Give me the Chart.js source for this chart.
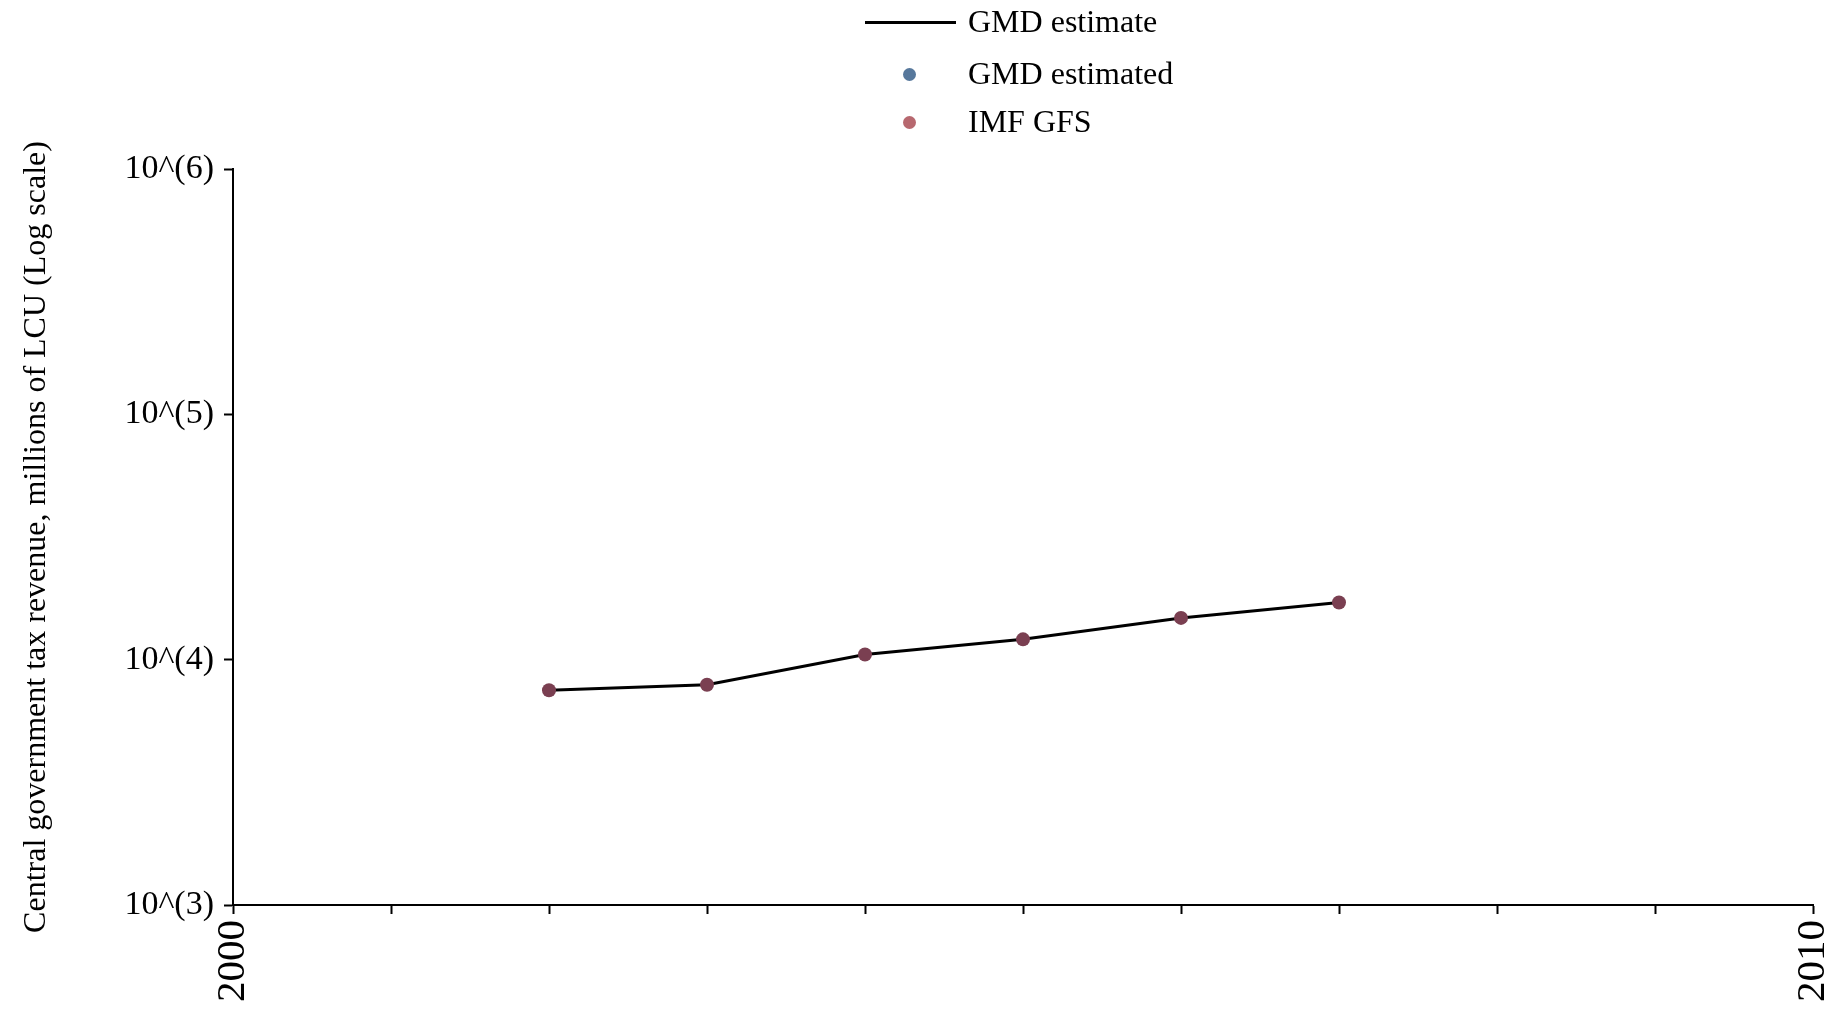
<!DOCTYPE html>
<html>
<head>
<meta charset="utf-8">
<title>Central government tax revenue</title>
<script src="https://cdn.jsdelivr.net/npm/chart.js@4.4.1/dist/chart.umd.min.js"></script>
<style>
    body { margin: 0; background: #fff; }
    #wrap { position: relative; width: 1840px; height: 1012px; }
    #legend { position: absolute; left: 0; top: 0; font-family: "Liberation Serif", "Times New Roman", serif; font-size: 32px; color: #000; }
    .item { position: absolute; left: 865px; height: 40px; width: 400px; }
    .item .mark { position: absolute; top: 50%; }
    .item .line { left: 0; width: 91px; height: 3px; margin-top: -1.5px; background: #000; }
    .item .dot { left: 38px; width: 13px; height: 13px; margin-top: -6.5px; border-radius: 50%; }
    .item span { position: absolute; left: 103px; top: 50%; transform: translateY(-52%); white-space: nowrap; }
</style>
</head>
<body>
<div id="wrap">
    <canvas id="chart" width="1840" height="1012"></canvas>
    <div id="legend"></div>
</div>
<script>
// years with data
const years = [2002, 2003, 2004, 2005, 2006, 2007];
// millions of LCU
const gmdEstimate = [7500, 7900, 10500, 12100, 14800, 17100];
const imfGfs = [7500, 7900, 10500, 12100, 14800, 17100];
const gmdEstimated = [];   // no estimated points for this country

const yTickValues = [1e3, 1e4, 1e5, 1e6];
const xTickLabels = [2000, 2010];
const legendLabels = ['GMD estimate', 'GMD estimated', 'IMF GFS'];

const serif = '"Liberation Serif", "Times New Roman", serif';

function toPoints(values) {
    return values.map((v, i) => ({ x: years[i], y: v }));
}

// simple html legend, one row per series
const legendEl = document.getElementById('legend');
const legendStyles = [
    { kind: 'line', color: '#000' },
    { kind: 'dot', color: '#57789c' },
    { kind: 'dot', color: '#b7686f' }
];
const rowCenters = [22, 74, 122];
legendLabels.forEach(function(label, i) {
    const row = document.createElement('div');
    row.className = 'item';
    row.style.top = (rowCenters[i] - 20) + 'px';
    const mark = document.createElement('div');
    mark.className = 'mark ' + legendStyles[i].kind;
    mark.style.background = legendStyles[i].color;
    const text = document.createElement('span');
    text.textContent = label;
    row.appendChild(mark);
    row.appendChild(text);
    legendEl.appendChild(row);
});

const ctx = document.getElementById('chart').getContext('2d');
new Chart(ctx, {
    data: {
        datasets: [
            {
                type: 'line',
                label: legendLabels[0],
                data: toPoints(gmdEstimate),
                borderColor: '#000',
                borderWidth: 3,
                pointRadius: 0,
                tension: 0,
                order: 3
            },
            {
                type: 'scatter',
                label: legendLabels[1],
                data: toPoints(gmdEstimated),
                backgroundColor: '#57789c',
                borderWidth: 0,
                pointRadius: 7,
                order: 2
            },
            {
                type: 'scatter',
                label: legendLabels[2],
                data: toPoints(imfGfs),
                backgroundColor: '#7a3f51',
                borderWidth: 0,
                pointRadius: 7,
                order: 1
            }
        ]
    },
    options: {
        responsive: false,
        animation: false,
        layout: {
            padding: { top: 169, right: 27, bottom: 0, left: 0 }
        },
        plugins: {
            legend: { display: false },
            tooltip: { enabled: false }
        },
        scales: {
            x: {
                type: 'linear',
                min: 2000,
                max: 2010,
                afterFit: function(scale) {
                    scale.height = 107;
                    scale.paddingLeft = 0;
                    scale.paddingRight = 0;
                },
                afterBuildTicks: function(scale) {
                    const ticks = [];
                    for (let y = 2000; y <= 2010; y++) ticks.push({ value: y });
                    scale.ticks = ticks;
                },
                border: { display: true, color: '#000', width: 2 },
                grid: {
                    drawOnChartArea: false,
                    drawTicks: true,
                    tickLength: 9,
                    tickColor: '#000',
                    tickWidth: 2
                },
                ticks: {
                    autoSkip: false,
                    minRotation: 90,
                    maxRotation: 90,
                    padding: 6,
                    color: '#000',
                    font: { family: serif, size: 41 },
                    callback: function(value) {
                        return xTickLabels.includes(value) ? String(value) : '';
                    }
                }
            },
            y: {
                type: 'logarithmic',
                min: 1e3,
                max: 1e6,
                afterFit: function(scale) {
                    scale.width = 233;
                    scale.paddingTop = 0;
                    scale.paddingBottom = 0;
                },
                afterBuildTicks: function(scale) {
                    scale.ticks = yTickValues.map(v => ({ value: v }));
                },
                border: { display: true, color: '#000', width: 2 },
                grid: {
                    drawOnChartArea: false,
                    drawTicks: true,
                    tickLength: 9,
                    tickColor: '#000',
                    tickWidth: 2
                },
                title: {
                    display: true,
                    text: 'Central government tax revenue, millions of LCU (Log scale)',
                    color: '#000',
                    font: { family: serif, size: 32 },
                    padding: { top: 17, bottom: 0 }
                },
                ticks: {
                    padding: 10,
                    color: '#000',
                    font: { family: serif, size: 34 },
                    callback: function(value) {
                        return '10^(' + Math.round(Math.log10(value)) + ')';
                    }
                }
            }
        }
    }
});
</script>
</body>
</html>
